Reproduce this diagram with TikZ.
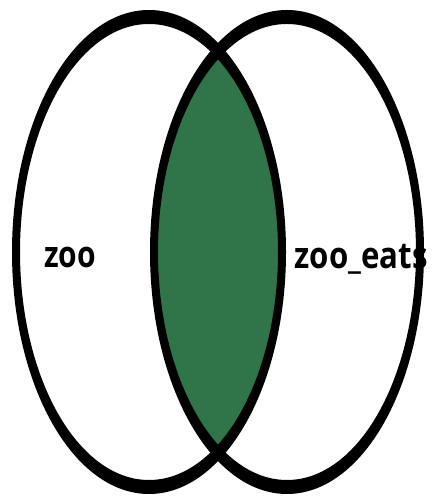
\documentclass[tikz,border=0pt]{standalone}
\usepackage{fontspec}
\setmainfont{Open Sans}
\definecolor{lensgreen}{RGB}{48,116,74}
\begin{document}
\begin{tikzpicture}[x=1pt,y=1pt,
  lbl/.style={inner sep=0pt,anchor=base,font=\bfseries\fontsize{30}{32}\selectfont}]
\useasboundingbox (0,0) rectangle (432,502);
\fill[white] (0,0) rectangle (432,502);
\coordinate (cl) at (149,250);
\coordinate (cr) at (287,250);
\begin{scope}
  \clip (cl) ellipse (133 and 235);
  \fill[lensgreen] (cr) ellipse (133 and 235);
\end{scope}
\fill[black,even odd rule] (cl) ellipse (137 and 242) (cl) ellipse (129 and 228);
\fill[black,even odd rule] (cr) ellipse (137 and 242) (cr) ellipse (129 and 228);
\node[lbl] (zoo) at (70,234) {\scalebox{1}[1.22]{zoo}};
\node[lbl] (zooeats) at (361,233) {\scalebox{1.04}[1.22]{zoo\_eats}};
\end{tikzpicture}
\end{document}
